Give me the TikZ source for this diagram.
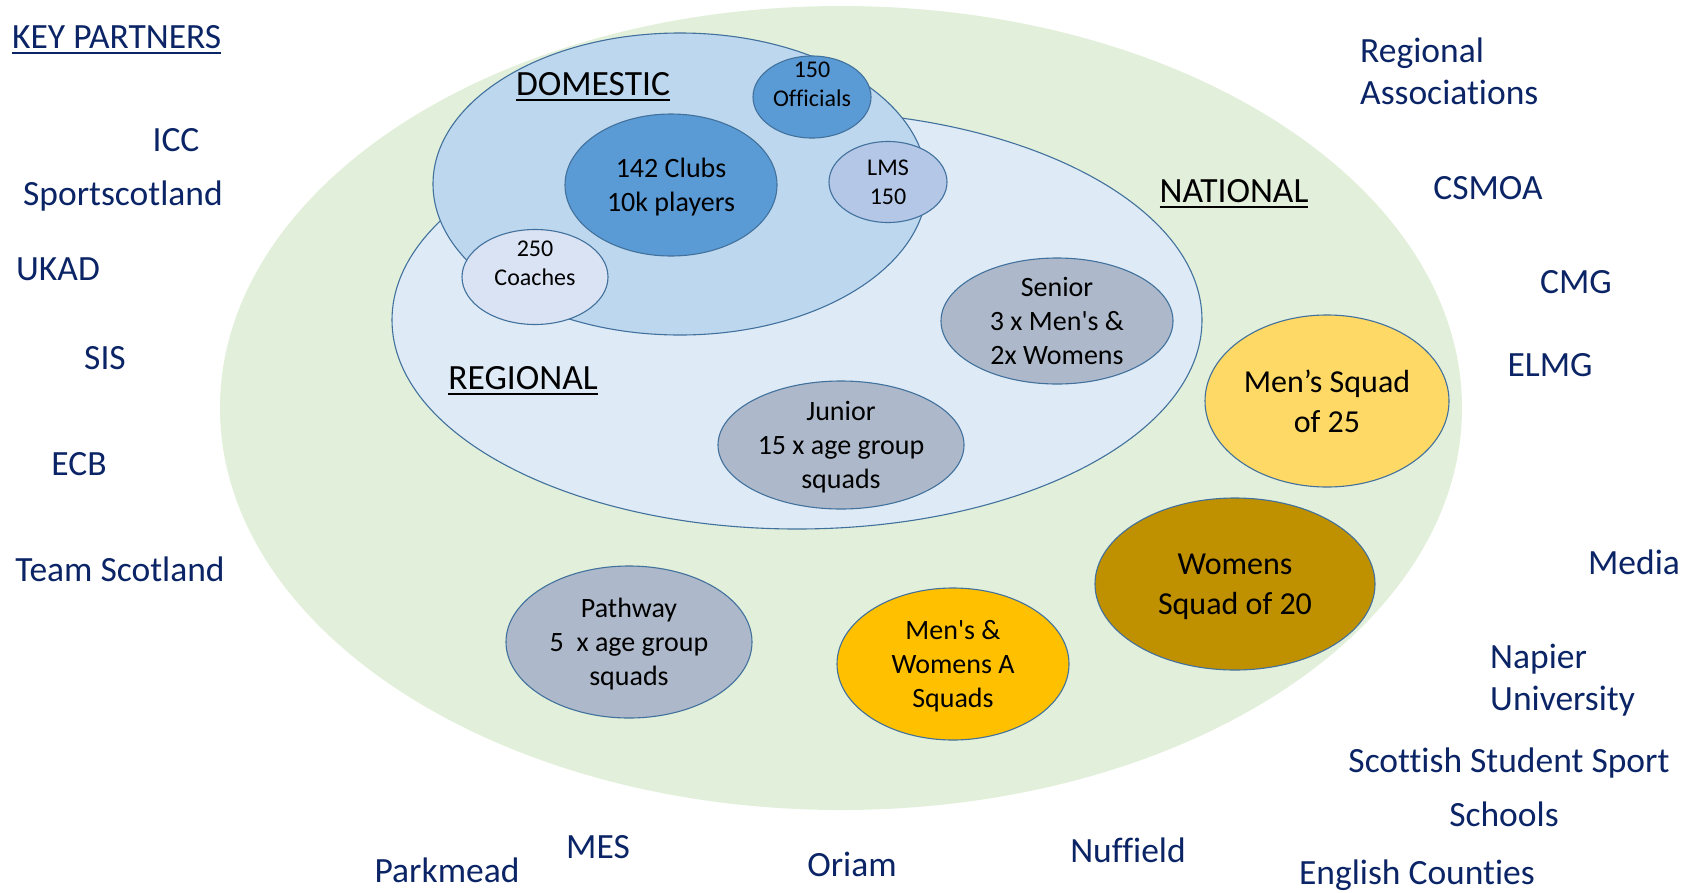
\documentclass[tikz,border=0pt]{standalone}
\usepackage{fontspec}
\setmainfont{Carlito}[Ligatures={TeXOff,CommonOff}]
\usepackage{xcolor}
\usetikzlibrary{shapes.geometric,
	positioning}

\definecolor{fieldgreen}{HTML}{E2EFDA}
\definecolor{regionalblue}{HTML}{DEEBF7}
\definecolor{domesticblue}{HTML}{BDD7EE}
\definecolor{clubblue}{HTML}{5B9BD5}
\definecolor{lmsblue}{HTML}{B4C7E7}
\definecolor{coachblue}{HTML}{DAE3F3}
\definecolor{squadgrey}{HTML}{ADB9CA}
\definecolor{lightgold}{HTML}{FFD966}
\definecolor{darkgold}{HTML}{BF9000}
\definecolor{gold}{HTML}{FFC000}
\definecolor{rimblue}{HTML}{41719C}
\definecolor{partnernavy}{HTML}{0A2466}

\newcommand{\headrule}[1]{\setbox0=\hbox{#1}\rlap{\rule[-6pt]{\wd0}{2.5pt}}\box0}

\begin{document}
\begin{tikzpicture}[x=1pt, y=-1pt,
	blob/.style={ellipse, draw=rimblue, line width=1.1pt, inner sep=0pt},
	partner/.style={text=partnernavy, inner sep=0pt, font=\fontsize{35.5}{42}\selectfont},
	heading/.style={inner sep=0pt, anchor=base, font=\fontsize{35.5}{42}\selectfont},
	bigtext/.style={align=center, inner sep=0pt, text depth=0pt, font=\fontsize{32}{40}\selectfont},
	squadtext/.style={align=center, inner sep=0pt, text depth=0pt, font=\fontsize{28}{34}\selectfont},
	smalltext/.style={align=center, inner sep=0pt, font=\fontsize{24}{29}\selectfont}]
	\useasboundingbox (0, 0) rectangle (1694, 892);

	\node (field) [ellipse, fill=fieldgreen, inner sep=0pt,
		minimum width=1242pt, minimum height=804pt] at (841, 408) {};
	\node (regional) [blob, fill=regionalblue,
		minimum width=810pt, minimum height=418pt] at (797, 320) {};
	\node (domestic) [blob, fill=domesticblue,
		minimum width=494pt, minimum height=302pt] at (680, 184) {};

	\node (clubs) [blob, fill=clubblue, minimum width=212pt, minimum height=142pt] at (671, 185) {};
	\node (officials) [blob, fill=clubblue, minimum width=118pt, minimum height=82pt] at (812, 97) {};
	\node (lms) [blob, fill=lmsblue, minimum width=118pt, minimum height=81pt] at (888, 182) {};
	\node (coaches) [blob, fill=coachblue, minimum width=146pt, minimum height=95pt] at (535, 277) {};
	\node (senior) [blob, fill=squadgrey, minimum width=232pt, minimum height=126pt] at (1057, 321) {};
	\node (junior) [blob, fill=squadgrey, minimum width=246pt, minimum height=128pt] at (841, 445) {};
	\node (mens) [blob, fill=lightgold, minimum width=244pt, minimum height=172pt] at (1327, 401) {};
	\node (womens) [blob, fill=darkgold, minimum width=280pt, minimum height=172pt] at (1235, 584) {};
	\node (asquads) [blob, fill=gold, minimum width=232pt, minimum height=152pt] at (953, 664) {};
	\node (pathway) [blob, fill=squadgrey, minimum width=246pt, minimum height=152pt] at (629, 642) {};

	\node (clubstext) [squadtext] at (clubs) {142 Clubs\\10k players};
	\node (officialstext) [smalltext] at ([yshift=13pt]officials.center) {150\\Officials};
	\node (lmstext) [smalltext] at (lms) {LMS\\150};
	\node (coachestext) [smalltext] at ([yshift=14pt]coaches.center) {250\\Coaches};
	\node (seniortext) [squadtext] at (senior) {Senior\\3 x Men's \&\\2x Womens};
	\node (juniortext) [squadtext] at (junior) {Junior\\15 x age group\\squads};
	\node (menstext) [bigtext] at (mens) {Men’s Squad\\of 25};
	\node (womenstext) [bigtext] at (womens) {Womens\\Squad of 20};
	\node (asquadstext) [squadtext] at (asquads) {Men's \&\\Womens A\\Squads};
	\node (pathwaytext) [squadtext] at (pathway) {Pathway\\5\ \ x age group\\squads};

	\node (domestichead) [heading] at (593, 95) {\headrule{DOMESTIC}};
	\node (nationalhead) [heading] at (1234, 202) {\headrule{NATIONAL}};
	\node (regionalhead) [heading] at (523, 389) {\headrule{REGIONAL}};

	\node (keypartners) [partner, anchor=base west] at (12, 48) {\headrule{KEY PARTNERS}};
	\node (icc) [partner, anchor=base] at (176, 151) {ICC};
	\node (sportscotland) [partner, anchor=base] at (123, 205) {Sportscotland};
	\node (ukad) [partner, anchor=base] at (58, 280) {UKAD};
	\node (sis) [partner, anchor=base] at (105, 369) {SIS};
	\node (ecb) [partner, anchor=base] at (79, 475) {ECB};
	\node (teamscotland) [partner, anchor=base] at (120, 581) {Team Scotland};
	\node (associations) [partner, anchor=west, align=left] at (1360, 71) {Regional\\Associations};
	\node (csmoa) [partner, anchor=base] at (1488, 199) {CSMOA};
	\node (cmg) [partner, anchor=base] at (1576, 293) {CMG};
	\node (elmg) [partner, anchor=base] at (1550, 376) {ELMG};
	\node (media) [partner, anchor=base] at (1634, 574) {Media};
	\node (napier) [partner, anchor=west, align=left] at (1490, 680) {Napier\\University};
	\node (studentsport) [partner, anchor=base] at (1509, 772) {Scottish Student Sport};
	\node (schools) [partner, anchor=base] at (1504, 826) {Schools};
	\node (counties) [partner, anchor=base] at (1417, 884) {English Counties};
	\node (parkmead) [partner, anchor=base] at (447, 882) {Parkmead};
	\node (mes) [partner, anchor=base] at (598, 858) {MES};
	\node (oriam) [partner, anchor=base] at (852, 876) {Oriam};
	\node (nuffield) [partner, anchor=base] at (1128, 862) {Nuffield};
\end{tikzpicture}
\end{document}
